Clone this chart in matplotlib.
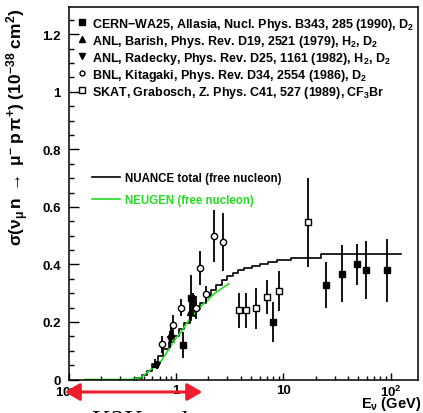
#!/usr/bin/env python3

import matplotlib
matplotlib.use("Agg")
from matplotlib import pyplot as plt
from matplotlib.lines import Line2D
from matplotlib.patches import FancyArrowPatch
import matplotlib.ticker as mticker

plt.rcParams['font.family'] = ['Liberation Sans', 'DejaVu Sans']
plt.rcParams['mathtext.fontset'] = 'custom'
plt.rcParams['mathtext.rm'] = 'Liberation Sans:bold'
plt.rcParams['mathtext.it'] = 'Liberation Sans:bold'
plt.rcParams['mathtext.bf'] = 'Liberation Sans:bold'

# data (E in GeV, sigma in 1e-38 cm^2)
cern_e = [1.15, 1.38, 7.95, 25, 35, 49, 59, 92]
cern_y = [0.12, 0.285, 0.20, 0.327, 0.368, 0.40, 0.38, 0.38]
cern_err = [0.045, 0.08, 0.07, 0.08, 0.10, 0.07, 0.10, 0.11]

barish_e = [0.63, 0.90, 1.35]
barish_y = [0.055, 0.16, 0.235]
barish_err = [0.015, 0.03, 0.04]

radecky_e = [0.66, 0.87, 1.42]
radecky_y = [0.05, 0.14, 0.26]
radecky_err = [0.015, 0.03, 0.04]

bnl_e = [0.73, 0.93, 1.11, 1.53, 1.68, 1.90, 2.26, 2.76]
bnl_y = [0.122, 0.188, 0.25, 0.25, 0.388, 0.296, 0.498, 0.478]
bnl_err = [0.03, 0.035, 0.03, 0.04, 0.06, 0.03, 0.09, 0.10]

skat_e = [3.86, 4.5, 5.5, 7.0, 9.05, 17.1]
skat_y = [0.24, 0.24, 0.247, 0.286, 0.307, 0.547]
skat_err = [0.06, 0.06, 0.07, 0.06, 0.07, 0.155]

nuance_e = [0.40, 0.45, 0.50, 0.56, 0.63, 0.71, 0.80, 0.90, 1.0, 1.12, 1.26,
            1.41, 1.58, 1.78, 2.0, 2.24, 2.51, 2.82, 3.16, 3.55, 3.98, 4.6,
            5.5, 6.5, 8.0, 9.4, 14.3, 31, 125]
nuance_y = [0.0, 0.005, 0.015, 0.03, 0.055, 0.08, 0.105, 0.13, 0.15, 0.175,
            0.195, 0.22, 0.245, 0.265, 0.29, 0.31, 0.33, 0.345, 0.36, 0.37,
            0.38, 0.388, 0.395, 0.402, 0.41, 0.414, 0.421, 0.436, 0.436]

neugen_e = [0.14, 0.37, 0.42, 0.47, 0.53, 0.60, 0.67, 0.73, 0.82, 0.92, 1.0,
            1.11, 1.25, 1.40, 1.58, 1.76, 1.96, 2.2, 2.5, 2.8, 3.1]
neugen_y = [0.0, 0.0, 0.003, 0.008, 0.022, 0.04, 0.055, 0.066, 0.095, 0.125,
            0.145, 0.165, 0.195, 0.22, 0.24, 0.26, 0.275, 0.295, 0.31, 0.322,
            0.333]

legend_labels = [
    r'CERN$-$WA25, Allasia, Nucl. Phys. B343, 285 (1990), D$_2$',
    r'ANL, Barish, Phys. Rev. D19, 2521 (1979), H$_2$, D$_2$',
    r'ANL, Radecky, Phys. Rev. D25, 1161 (1982), H$_2$, D$_2$',
    r'BNL, Kitagaki, Phys. Rev. D34, 2554 (1986), D$_2$',
    r'SKAT, Grabosch, Z. Phys. C41, 527 (1989), CF$_3$Br',
]

GREEN = '#22dd22'


def main():
    fig = plt.figure(figsize=(4.23, 4.14), dpi=100)
    ax = fig.add_axes([69/423, 1-380.5/414, 349/423, 372.5/414])

    eb = dict(color='black', ecolor='black', elinewidth=1.3, capsize=0,
              linestyle='none', markersize=4.5, markeredgewidth=1.0, zorder=3)
    ax.errorbar(cern_e, cern_y, yerr=cern_err, marker='s', **eb)
    ax.errorbar(barish_e, barish_y, yerr=barish_err, marker='^', **eb)
    ax.errorbar(radecky_e, radecky_y, yerr=radecky_err, marker='v', **eb)
    ax.errorbar(bnl_e, bnl_y, yerr=bnl_err, marker='o', mfc='white', **eb)
    ax.errorbar(skat_e, skat_y, yerr=skat_err, marker='s', mfc='white', **eb)

    l_nu, = ax.plot(nuance_e, nuance_y, color='black', lw=1.2,
                    drawstyle='steps-mid', zorder=2)
    l_ng, = ax.plot(neugen_e, neugen_y, color=GREEN, lw=1.2, zorder=2)

    ax.set_xscale('log')
    ax.set_xlim(0.1, 180)
    ax.set_ylim(0, 1.295)

    # ROOT-like axes
    for side in ['left', 'bottom', 'right', 'top']:
        ax.spines[side].set_linewidth(1.1)
    ax.tick_params(which='both', direction='in', top=False, right=False,
                   labelsize=9.5, width=1.0)
    ax.tick_params(axis='y', which='major', length=7, pad=6)
    ax.tick_params(axis='y', which='minor', length=3.5)
    ax.tick_params(axis='x', which='major', length=5, pad=3)
    ax.tick_params(axis='x', which='minor', length=3)
    ax.yaxis.set_major_locator(mticker.MultipleLocator(0.2))
    ax.yaxis.set_minor_locator(mticker.MultipleLocator(0.05))
    ax.yaxis.set_major_formatter(mticker.FuncFormatter(
        lambda v, p: '0' if v == 0 else ('1' if abs(v - 1) < 1e-9 else f'{v:.1f}')))
    ax.set_xticks([0.1, 1, 10, 100])
    ax.set_xticklabels([r'$10^{-1}$', '1', '10', r'$10^{2}$'])
    for lab in ax.get_xticklabels() + ax.get_yticklabels():
        lab.set_fontweight('bold')

    # data legend
    handles = [
        Line2D([], [], color='black', marker='s', ls='none', ms=4),
        Line2D([], [], color='black', marker='^', ls='none', ms=4),
        Line2D([], [], color='black', marker='v', ls='none', ms=4),
        Line2D([], [], color='black', marker='o', mfc='white', ls='none', ms=3.5),
        Line2D([], [], color='black', marker='s', mfc='white', ls='none', ms=4),
    ]
    leg1 = ax.legend(handles, legend_labels, loc='upper left',
                     bbox_to_anchor=(0.0, 0.997), frameon=False,
                     prop={'size': 9.0, 'weight': 'bold'},
                     handlelength=0.9, handletextpad=0.35, labelspacing=0.08,
                     borderaxespad=0.3, borderpad=0.3)
    ax.add_artist(leg1)

    ax.legend([l_nu, l_ng], ['NUANCE total (free nucleon)',
                             'NEUGEN (free nucleon)'],
              loc='upper left', bbox_to_anchor=(0.035, 0.585), frameon=False,
              prop={'size': 8.3, 'weight': 'bold'}, handlelength=2.5,
              handletextpad=0.4, labelspacing=0.85, labelcolor='linecolor')

    # axis titles, ROOT style placement
    fig.text(18/423, 1-8/414,
             r'$\sigma(\nu_{\mu}\,n\;\rightarrow\;\mu^{-}\,p\,\pi^{+})\;(10^{-38}\;cm^{2})$',
             rotation=90, ha='center', va='top', fontsize=12.5)
    fig.text(421/423, 1-404/414, r'$E_{\nu}$ (GeV)', ha='right', va='center',
             fontsize=10.5, fontweight='bold')

    # red double arrow over the low energy region
    arrow = FancyArrowPatch((62/423, 1-393/414), (205/423, 1-393/414),
                            transform=fig.transFigure,
                            arrowstyle='<|-|>,head_length=0.6,head_width=0.35',
                            mutation_scale=15, color='#ee1c2e', lw=2.2)
    fig.add_artist(arrow)

    # caption cut off at the bottom of the slide
    fig.text(92/423, -14/414, 'K2K and',
             family=['Liberation Serif', 'DejaVu Serif'],
             fontsize=19, ha='left', va='baseline')

    fig.savefig('out.png', dpi=100)


if __name__ == '__main__':
    main()
